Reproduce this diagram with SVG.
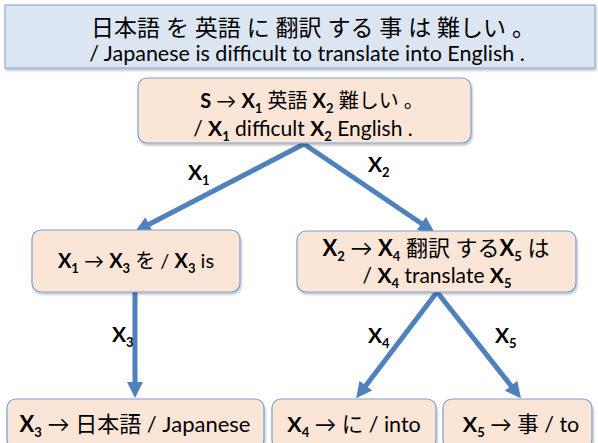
<svg xmlns="http://www.w3.org/2000/svg" width="598" height="443" viewBox="0 0 598 443">
<style>
.t{font-family:Lato,"Noto Sans CJK JP",sans-serif;fill:#000;text-anchor:middle}
.b{font-weight:bold}
.s{font-size:13px;font-weight:bold}
.node{fill:#fbe5d6;stroke:#7a9fd0;stroke-width:1.2}
.top{fill:#dce6f2;stroke:#8eb0dc;stroke-width:1.2}
.con{stroke:#4f81bd;stroke-width:5;fill:none;marker-end:url(#ah)}
.lab{font-family:Lato,sans-serif;font-weight:bold;font-size:21px;fill:#000}
</style>
<defs>
<marker id="ah" markerUnits="userSpaceOnUse" viewBox="0 0 10 10" markerWidth="16" markerHeight="16" refX="5" refY="5" orient="auto">
<path d="M0,0 L10,5 L0,10 z" fill="#4f81bd"/>
</marker>
<filter id="sh" x="-5%" y="-10%" width="110%" height="130%">
<feDropShadow dx="1" dy="2" stdDeviation="1.2" flood-color="#000" flood-opacity="0.25"/>
</filter>
</defs>

<g id="title">
<rect class="top" x="5" y="5" width="590" height="63" filter="url(#sh)"/>
<text class="t" x="313" y="36" font-size="23">日本語 を 英語 に 翻訳 する 事 は 難しい 。</text>
<text class="t" x="307" y="61" font-size="21.5">/ Japanese is difficult to translate into English .</text>
</g>

<g id="connectors">
<line class="con" x1="304" y1="144" x2="142" y2="228"/>
<line class="con" x1="304" y1="144" x2="428" y2="228"/>
<line class="con" x1="135" y1="292" x2="135" y2="390"/>
<line class="con" x1="437" y1="292" x2="361" y2="392"/>
<line class="con" x1="437" y1="292" x2="516" y2="392"/>
</g>

<g id="edge-labels">
<text class="lab" x="188" y="180">X<tspan class="s" dy="5">1</tspan></text>
<text class="lab" x="368" y="172">X<tspan class="s" dy="5">2</tspan></text>
<text class="lab" x="112" y="342">X<tspan class="s" dy="5">3</tspan></text>
<text class="lab" x="368" y="343">X<tspan class="s" dy="5">4</tspan></text>
<text class="lab" x="495" y="343">X<tspan class="s" dy="5">5</tspan></text>
</g>

<g id="root">
<rect class="node" x="138" y="78" width="333" height="65" rx="9" filter="url(#sh)"/>
<text class="t" x="312" y="108" font-size="20"><tspan class="b">S</tspan> → <tspan class="b">X</tspan><tspan class="s" dy="5">1</tspan><tspan dy="-5"> 英語 </tspan><tspan class="b">X</tspan><tspan class="s" dy="5">2</tspan><tspan dy="-5"> 難しい 。</tspan></text>
<text class="t" x="303" y="136" font-size="21"><tspan>/ </tspan><tspan class="b">X</tspan><tspan class="s" dy="5">1</tspan><tspan dy="-5"> difficult </tspan><tspan class="b">X</tspan><tspan class="s" dy="5">2</tspan><tspan dy="-5"> English .</tspan></text>
</g>

<g id="n1">
<rect class="node" x="32" y="230" width="208" height="62" rx="9" filter="url(#sh)"/>
<text class="t" x="136" y="268" font-size="20"><tspan class="b">X</tspan><tspan class="s" dy="5">1</tspan><tspan dy="-5"> → </tspan><tspan class="b">X</tspan><tspan class="s" dy="5">3</tspan><tspan dy="-5"> を / </tspan><tspan class="b">X</tspan><tspan class="s" dy="5">3</tspan><tspan dy="-5"> is</tspan></text>
</g>

<g id="n2">
<rect class="node" x="297" y="231" width="279" height="61" rx="9" filter="url(#sh)"/>
<text class="t" x="436" y="256" font-size="22"><tspan class="b">X</tspan><tspan class="s" dy="5">2</tspan><tspan dy="-5"> → </tspan><tspan class="b">X</tspan><tspan class="s" dy="5">4</tspan><tspan dy="-5"> 翻訳 する</tspan><tspan class="b">X</tspan><tspan class="s" dy="5">5</tspan><tspan dy="-5"> は</tspan></text>
<text class="t" x="437" y="283" font-size="21"><tspan>/ </tspan><tspan class="b">X</tspan><tspan class="s" dy="5">4</tspan><tspan dy="-5"> translate </tspan><tspan class="b">X</tspan><tspan class="s" dy="5">5</tspan></text>
</g>

<g id="n3">
<rect class="node" x="7" y="399" width="257" height="50" rx="9" filter="url(#sh)"/>
<text class="t" x="135" y="432" font-size="22"><tspan class="b">X</tspan><tspan class="s" dy="5">3</tspan><tspan dy="-5"> → 日本語 / Japanese</tspan></text>
</g>

<g id="n4">
<rect class="node" x="272" y="399" width="164" height="50" rx="9" filter="url(#sh)"/>
<text class="t" x="354" y="432" font-size="21.5"><tspan class="b">X</tspan><tspan class="s" dy="5">4</tspan><tspan dy="-5"> → に / into</tspan></text>
</g>

<g id="n5">
<rect class="node" x="443" y="399" width="149" height="50" rx="9" filter="url(#sh)"/>
<text class="t" x="521" y="432" font-size="21.5"><tspan class="b">X</tspan><tspan class="s" dy="5">5</tspan><tspan dy="-5"> → 事 / to</tspan></text>
</g>
</svg>
